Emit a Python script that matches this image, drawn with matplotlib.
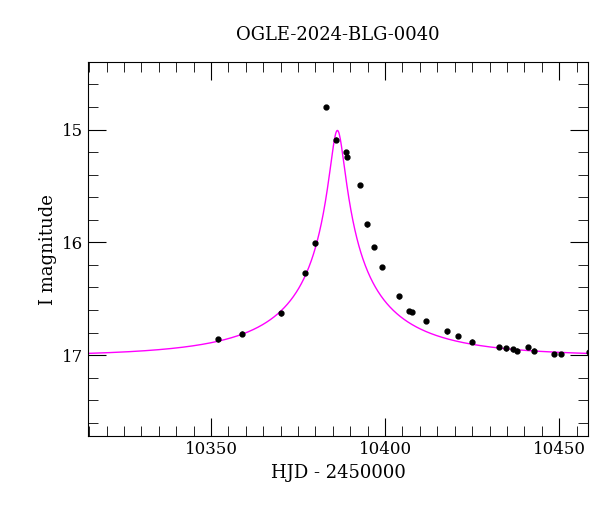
import numpy as np
import matplotlib
matplotlib.use("Agg")
import matplotlib.pyplot as plt
from matplotlib.ticker import MultipleLocator

hjd = [10352.0,10358.9,10370.1,10377.0,10379.9,10383.0,10385.9,10388.8,10389.1,10392.8,
       10394.8,10396.8,10399.1,10404.0,10406.9,10407.8,10411.8,10417.8,10421.0,10425.0,
       10432.8,10434.8,10436.8,10437.9,10441.1,10442.8,10448.6,10450.6,10458.6]
mag = [16.86,16.81,16.63,16.27,16.01,14.80,15.09,15.20,15.24,15.49,
       15.84,16.04,16.22,16.48,16.61,16.62,16.70,16.79,16.83,16.88,
       16.93,16.94,16.95,16.96,16.93,16.96,16.99,16.99,16.97]
err = [0.02]*len(hjd)

t0, tE, u0, Ibase, fs = 10386.3, 40.0, 0.05, 17.01, 0.28

plt.rcParams['font.family'] = 'DejaVu Serif'
fig = plt.figure(figsize=(6, 5.12), dpi=100)
ax = fig.add_axes([0.147, 0.148, 0.833, 0.731])

t = np.linspace(10314.7, 10458.3, 1000)
u = np.sqrt(u0**2 + ((t - t0)/tE)**2)
A = (u**2 + 2)/(u*np.sqrt(u**2 + 4))
ax.plot(t, Ibase - 2.5*np.log10(fs*A + 1 - fs), color='#ff00ff', lw=1)
ax.errorbar(hjd, mag, yerr=err, fmt='o', color='black', ms=3.5, elinewidth=1, capsize=0)

ax.set_xlim(10314.7, 10458.3)
ax.set_ylim(17.72, 14.4)
ax.xaxis.set_major_locator(MultipleLocator(50))
ax.xaxis.set_minor_locator(MultipleLocator(5))
ax.yaxis.set_major_locator(MultipleLocator(1))
ax.yaxis.set_minor_locator(MultipleLocator(0.2))
ax.tick_params(which='both', direction='in', top=True, right=True, labelsize=12)
ax.tick_params(which='major', length=13)
ax.tick_params(which='minor', length=7)
ax.set_xlabel('HJD - 2450000', fontsize=13)
ax.set_ylabel('I magnitude', fontsize=13)
ax.set_title('OGLE-2024-BLG-0040', fontsize=13, pad=16)
fig.savefig('out.png', dpi=100)
